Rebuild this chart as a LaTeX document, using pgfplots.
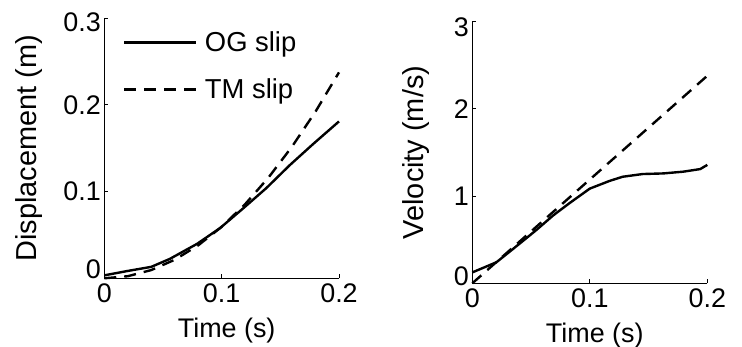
\documentclass[border=0pt]{standalone}
\usepackage{fontspec}
\setmainfont{Liberation Sans}
\usepackage{pgfplots}
\pgfplotsset{compat=1.18}
\begin{document}
\begin{tikzpicture}
\path[use as bounding box] (0,0) rectangle (742bp,347bp);
\pgfplotsset{
  mystyle/.style={
    scale only axis, anchor=south west,
    axis x line*=bottom, axis y line*=left,
    axis line style={-, line width=1.2bp, black},
    tick align=inside, major tick length=4bp,
    tick style={line width=1bp, black},
    ticklabel style={font=\fontsize{27}{30}\selectfont},
    /pgf/number format/assume math mode=true,
    scaled ticks=false,
    xmin=0, xmax=0.2, xtick={0,0.1,0.2}, xticklabels={0,0.1,0.2},
    xticklabel style={yshift=-1.5bp},
    xlabel={Time (s)},
    xlabel style={font=\fontsize{27}{30}\selectfont, at={(axis description cs:0.5,0)}, anchor=base, yshift=-59bp, xshift=5bp},
    clip=false,
  },
}
\begin{axis}[mystyle,
  at={(104.3bp,68.7bp)}, width=234.7bp, height=260bp,
  ymin=0, ymax=0.3, ytick={0,0.1,0.2,0.3},
  yticklabels={\raisebox{9bp}[\height][\depth]{0},0.1,0.2,\raisebox{-4bp}[\height][\depth]{0.3}},
  ylabel={Displacement (m)},
  ylabel style={font=\fontsize{29}{32}\selectfont, at={(axis description cs:-0.289,0.5)}, anchor=base},
  legend style={draw=none, fill=none, at={(axis description cs:0.066,0.957)}, anchor=north west,
    font=\fontsize{27.5}{30}\selectfont, nodes={inner sep=0pt}, row sep=26bp, column sep=7.6bp},
  legend cell align=left,
  legend image code/.code={\draw[#1] (0bp,0bp) -- (72bp,0bp);},
]
\addplot[black, line width=2.4bp] coordinates {
(0,0.0034) (0.02,0.0085) (0.04,0.0132) (0.056,0.0225) (0.07,0.033) (0.079,0.0397)
(0.0987,0.058) (0.1186,0.081) (0.138,0.104) (0.158,0.1305) (0.178,0.155) (0.2,0.181)};
\addlegendentry{OG slip}
\addplot[black, line width=2.4bp, dash pattern=on 12bp off 8bp] coordinates {
(0,0) (0.02,0.0024) (0.04,0.0095) (0.06,0.0214) (0.08,0.038) (0.1,0.0594)
(0.12,0.0855) (0.14,0.1164) (0.16,0.152) (0.18,0.1924) (0.2,0.2376)};
\addlegendentry{TM slip}
\end{axis}
\begin{axis}[mystyle,
  at={(472.3bp,63.7bp)}, width=235bp, height=261.6bp,
  ymin=0, ymax=3, ytick={0,1,2,3},
  yticklabels={\raisebox{7bp}[\height][\depth]{0},1,2,\raisebox{-6bp}[\height][\depth]{3}},
  ylabel={Velocity (m/s)},
  ylabel style={font=\fontsize{29}{32}\selectfont, at={(axis description cs:-0.208,0.5)}, anchor=base},
]
\addplot[black, line width=2.4bp] coordinates {
(0,0.125) (0.0205,0.241) (0.0403,0.455) (0.0545,0.611) (0.0688,0.778) (0.083,0.922)
(0.1,1.086) (0.117,1.175) (0.128,1.222) (0.145,1.253) (0.1625,1.26) (0.1795,1.28)
(0.194,1.31) (0.2,1.358)};
\addplot[black, line width=2.4bp, dash pattern=on 12bp off 8bp] coordinates {
(0,0) (0.05,0.595) (0.1,1.19) (0.15,1.785) (0.2,2.38)};
\end{axis}
\end{tikzpicture}
\end{document}
